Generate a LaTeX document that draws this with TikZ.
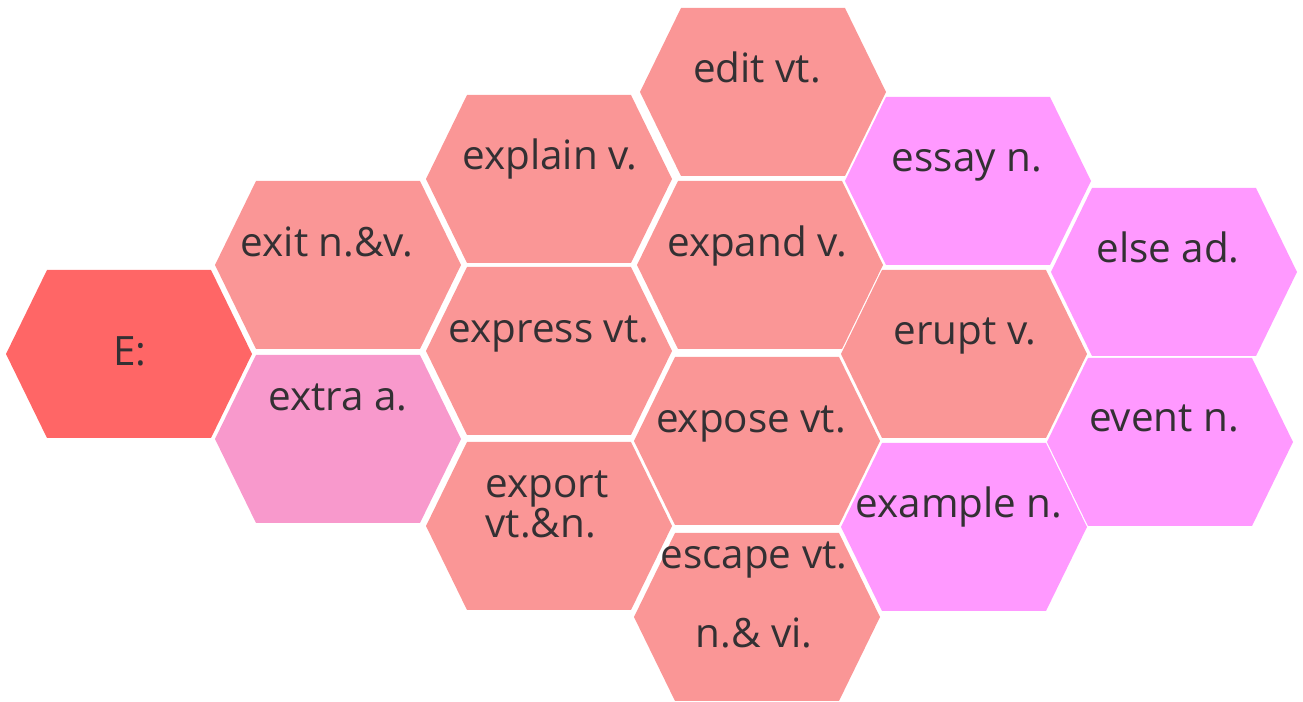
\documentclass[tikz,border=0pt]{standalone}
\usepackage{fontspec}
\setmainfont{Open Sans}

\definecolor{eRed}{RGB}{255,102,102}
\definecolor{eSalmon}{RGB}{250,150,150}
\definecolor{ePink}{RGB}{248,153,204}
\definecolor{eViolet}{RGB}{255,153,255}
\definecolor{wordInk}{RGB}{51,48,51}

% one honeycomb cell, centre in pixels
\newcommand\hexcell[2]{%
  \fill[#2] (#1) ++(-123,0) -- ++(41,-84) -- ++(164,0) -- ++(41,84)
    -- ++(-41,84) -- ++(-164,0) -- cycle;}

\begin{document}
\begin{tikzpicture}[
  x=0.02cm,
  y=-0.02cm,
  word/.style={
    anchor=base,
    text=wordInk,
    font=\fontsize{23}{23}\selectfont
  },
]
\useasboundingbox (0,0) rectangle (1303,702);

% cells
\hexcell{129,354}{eRed}
\hexcell{338,265}{eSalmon}
\hexcell{338,439}{ePink}
\hexcell{549,179}{eSalmon}
\hexcell{549,351}{eSalmon}
\hexcell{549,526}{eSalmon}
\hexcell{763,92}{eSalmon}
\hexcell{760,265}{eSalmon}
\hexcell{757,441}{eSalmon}
\hexcell{757,617}{eSalmon}
\hexcell{968,181}{eViolet}
\hexcell{964,354}{eSalmon}
\hexcell{964,527}{eViolet}
\hexcell{1174,272}{eViolet}
\hexcell{1170,442}{eViolet}

% words (two-line ones sit on their last line)
\node[word] (E) at (130,366) {E:};
\node[word] (exit) at (327,257) {exit n.\&v.};
\node[word] (extra) at (338,411) {extra a.};
\node[word] (explain) at (550,170) {explain v.};
\node[word] (express) at (549,343) {express vt.};
\node[word, align=left] (export) at (547,538) {export\\vt.\&n.};
\node[word] (edit) at (757,83) {edit vt.};
\node[word] (expand) at (757,257) {expand v.};
\node[word] (expose) at (751,433) {expose vt.};
\node[word, align=center] (escape) at (754,648) {escape vt.\\[22pt]n.\& vi.};
\node[word] (essay) at (967,172) {essay n.};
\node[word] (erupt) at (965,345) {erupt v.};
\node[word] (example) at (959,518) {example n.};
\node[word] (else) at (1168,263) {else ad.};
\node[word] (event) at (1164,432) {event n.};
\end{tikzpicture}
\end{document}
